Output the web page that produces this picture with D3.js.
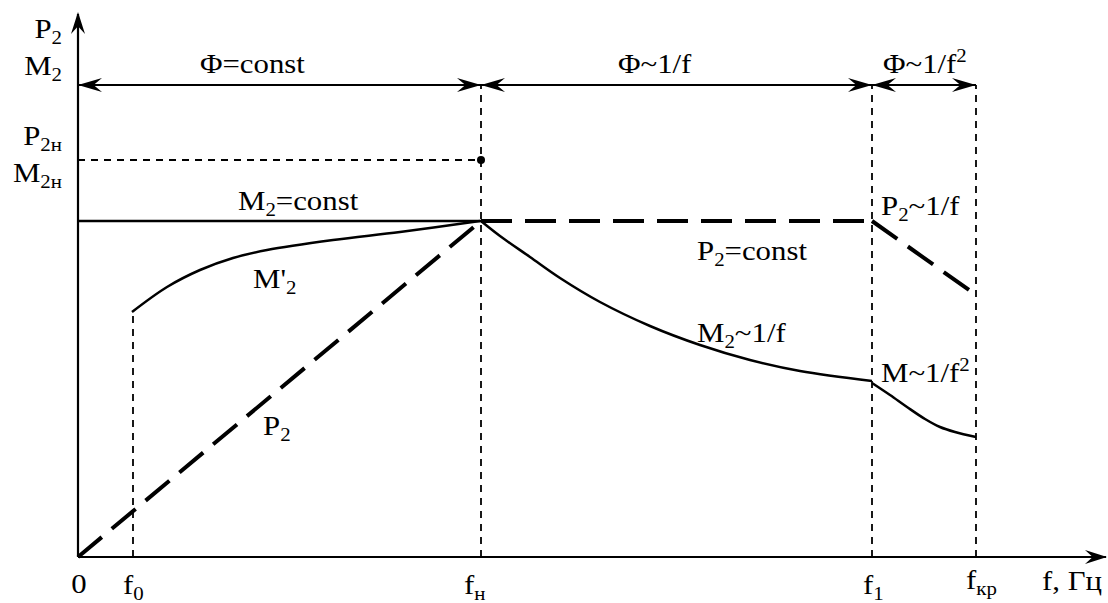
<!DOCTYPE html>
<html lang="ru">
<head>
<meta charset="UTF-8">
<title>P2, M2 = F(f)</title>
<style>
  body { margin: 0; background: #fff; }
  text { font-family: "Liberation Serif", "Times New Roman", serif; font-size: 28px; fill: #000; }
</style>
</head>
<body>
<svg class="chart"></svg>
<script src="https://cdnjs.cloudflare.com/ajax/libs/d3/7.8.5/d3.min.js"></script>
<script>
// characteristic frequencies (relative units) and their labels
const fMarks = [5.5, 40.3, 79.4, 89.8];           // f0, fн, f1, fкр
const fMarkNames = [['f', '0'], ['f', 'н'], ['f', '1'], ['f', 'кр']];

// levels on the vertical axis
const levelZones = 94.4;   // dimension arrows
const levelRated = 79.4;   // P2н, M2н
const levelConst = 67.2;   // M2 = const

// series
const p2F = [0, 40.3];
const p2V = [0, 67.2];
const m2constF = [0, 40.3];
const m2constV = [67.2, 67.2];
const m2primeF = [5.4, 8.9, 12.2, 15.5, 18.9, 25.5, 32.2, 40.2];
const m2primeV = [49, 54, 57.4, 59.8, 61.4, 63.4, 65, 67.2];
const p2constF = [40.3, 79.4];
const p2constV = [67.2, 67.2];
const m2invF = [40.3, 42.2, 45.2, 48.2, 52.2, 57.2, 62.2, 67.2, 72.2, 79.4];
const m2invV = [67.2, 64.2, 60, 55.8, 51, 46.2, 42.4, 39.4, 37.2, 35.2];
const p2invF = [79.4, 89.1];
const p2invV = [67.2, 53.4];
const minv2F = [79.4, 81.2, 82.9, 84.7, 86.2, 87.7, 89.8];
const minv2V = [34.8, 32.4, 30, 27.6, 26, 25, 24];

const width = 1108, height = 603;
const stretch = 1.1;

const svg = d3.select('.chart').attr('width', width).attr('height', height);

const x = d3.scaleLinear().domain([0, 100]).range([78, 1078]);
const y = d3.scaleLinear().domain([0, 100]).range([557, 57]);

const zip = (fs, vs) => fs.map((f, i) => [f, vs[i]]);
const line = d3.line().x(d => x(d[0])).y(d => y(d[1]));
const smooth = d3.line().x(d => x(d[0])).y(d => y(d[1])).curve(d3.curveCatmullRom.alpha(0.5));

// arrow head with tip at (px,py), pointing at angle (deg)
function head(px, py, angle, len = 24, half = 7) {
  svg.append('path')
    .attr('d', `M0,0L${-len},${-half}L${-len * 0.65},0L${-len},${half}Z`)
    .attr('transform', `translate(${px},${py}) rotate(${angle})`)
    .attr('fill', '#000');
}

function label(px, py, parts, anchor = 'start') {
  const t = svg.append('text')
    .attr('transform', `translate(${px},${py}) scale(${stretch},1)`)
    .attr('text-anchor', anchor);
  let shift = 0;
  parts.forEach(([s, k]) => {
    const want = k === 'sub' ? 6 : k === 'sup' ? -11 : 0;
    const ts = t.append('tspan').attr('dy', want - shift).text(s);
    if (k !== 'n') ts.style('font-size', '19px');
    shift = want;
  });
}

// thin dashed guides
const thin = g => g.attr('fill', 'none').attr('stroke', '#000').attr('stroke-width', 1.8).attr('stroke-dasharray', '7,6');
fMarks.forEach((f, i) => {
  const top = i === 0 ? m2primeV[0] : levelZones;
  svg.append('path').attr('d', line([[f, 0], [f, top]])).call(thin);
});
svg.append('path').attr('d', line([[0, levelRated], [fMarks[1], levelRated]])).call(thin);
svg.append('circle').attr('cx', x(fMarks[1])).attr('cy', y(levelRated)).attr('r', 4).attr('fill', '#000');

// axes
svg.append('line').attr('x1', x(0)).attr('y1', y(0)).attr('x2', width - 2).attr('y2', y(0))
  .attr('stroke', '#000').attr('stroke-width', 2.2);
svg.append('line').attr('x1', x(0)).attr('y1', y(0)).attr('x2', x(0)).attr('y2', 14)
  .attr('stroke', '#000').attr('stroke-width', 2.2);
head(width - 1, y(0), 0, 22, 7);
head(x(0), 12, -90, 22, 7);

// zone dimension arrows
const zoneEdges = [0, fMarks[1], fMarks[2], fMarks[3]];
for (let i = 0; i < 3; i++) {
  const a = x(zoneEdges[i]), b = x(zoneEdges[i + 1]), yy = y(levelZones);
  svg.append('line').attr('x1', a).attr('y1', yy).attr('x2', b).attr('y2', yy)
    .attr('stroke', '#000').attr('stroke-width', 2);
  head(a, yy, 180);
  head(b, yy, 0);
}

// curves
const solid = g => g.attr('fill', 'none').attr('stroke', '#000').attr('stroke-width', 2.5);
const thick = g => g.attr('fill', 'none').attr('stroke', '#000').attr('stroke-width', 4).attr('stroke-dasharray', '31,13');

svg.append('path').attr('d', line(zip(m2constF, m2constV))).call(solid);
svg.append('path').attr('d', smooth(zip(m2primeF, m2primeV))).call(solid);
svg.append('path').attr('d', smooth(zip(m2invF, m2invV))).call(solid);
svg.append('path').attr('d', smooth(zip(minv2F, minv2V))).call(solid);
svg.append('path').attr('d', line(zip(p2F, p2V))).call(thick);
svg.append('path').attr('d', line(zip(p2constF, p2constV))).call(thick);
svg.append('path').attr('d', line(zip(p2invF, p2invV))).call(thick);

// vertical axis labels
const ax = x(0) - 16;
label(ax, y(103.8), [['P', 'n'], ['2', 'sub']], 'end');
label(ax, y(96.4), [['M', 'n'], ['2', 'sub']], 'end');
label(ax, y(82.4), [['P', 'n'], ['2н', 'sub']], 'end');
label(ax, y(75), [['M', 'n'], ['2н', 'sub']], 'end');

// zone labels
label(x(12.2), y(96.8), [['Φ=const', 'n']]);
label(x(54), y(96.8), [['Φ~1/f', 'n']]);
label(x(80.5), y(96.8), [['Φ~1/f', 'n'], ['2', 'sup']]);

// curve labels
label(x(16), y(69.4), [['M', 'n'], ['2', 'sub'], ['=const', 'n']]);
label(x(17.5), y(53.8), [["M'", 'n'], ['2', 'sub']]);
label(x(18.5), y(24.4), [['P', 'n'], ['2', 'sub']]);
label(x(61.9), y(59.4), [['P', 'n'], ['2', 'sub'], ['=const', 'n']]);
label(x(61.9), y(43), [['M', 'n'], ['2', 'sub'], ['~1/f', 'n']]);
label(x(80.3), y(68.4), [['P', 'n'], ['2', 'sub'], ['~1/f', 'n']]);
label(x(80.3), y(35), [['M~1/f', 'n'], ['2', 'sup']]);

// frequency axis labels
const fy = y(0) + 36;
label(x(0) + 1, fy, [['0', 'n']], 'middle');
const fOffsets = [-10, -17, -9, -10];
fMarks.forEach((f, i) => {
  label(x(f) + fOffsets[i], fy + (i === 3 ? -4 : 1), [[fMarkNames[i][0], 'n'], [fMarkNames[i][1], 'sub']]);
});
label(1042, fy - 3, [['f, Гц', 'n']]);
</script>
</body>
</html>
